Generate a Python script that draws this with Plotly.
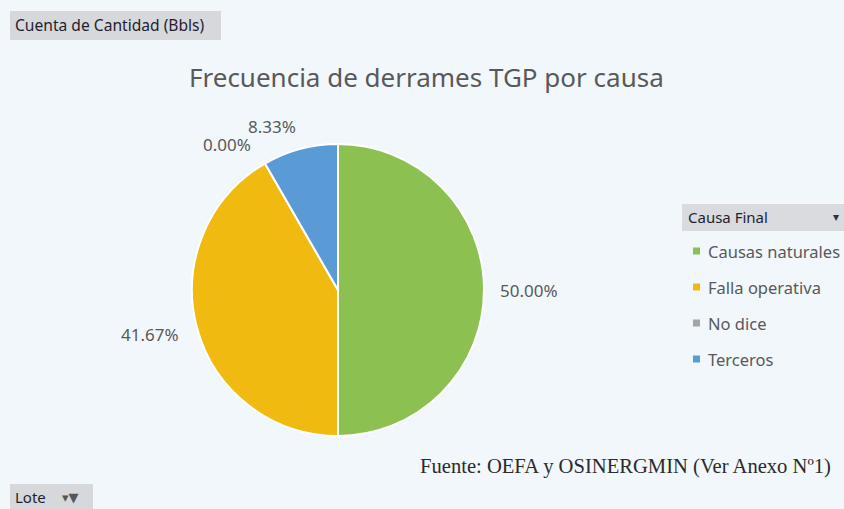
import math
import plotly.graph_objects as go

categories = ["Causas naturales", "Falla operativa", "No dice", "Terceros"]
values = [6, 5, 0, 1]
colors = ["#8CC152", "#F0BA10", "#A5A5A5", "#5A9BD5"]
title = "Frecuencia de derrames TGP por causa"

W, H = 844, 509
CX, CY, R = 338, 290, 146


def px(x):
    return x / W


def py(y):
    return 1 - y / H


fig = go.Figure()
fig.add_trace(go.Pie(
    labels=categories, values=values, sort=False, direction="clockwise",
    rotation=0, marker=dict(colors=colors, line=dict(color="white", width=2)),
    textinfo="none", showlegend=False, hoverinfo="label+percent",
    domain=dict(x=[px(CX - R), px(CX + R)], y=[py(CY + R), py(CY - R)]),
))

annotations = []
shapes = []


def text(x, y, s, size, color="#595959", family="Noto Sans", xa="left"):
    annotations.append(dict(x=px(x), y=py(y), xref="paper", yref="paper", text=s,
                            xanchor=xa, yanchor="middle", showarrow=False,
                            font=dict(family=family, size=size, color=color)))


# percentage labels placed around slices from the data (radius factor + pixel nudge)
total = sum(values)
cum = 0
label_r = [1.31, 1.36, 1.2, 1.2]
label_nudge = [(0, 0), (4, -7), (-23, 6), (-21, 6)]
for i, v in enumerate(values):
    mid = (cum + v / 2) / total * 2 * math.pi
    cum += v
    rr = R * label_r[i]
    x = CX + rr * math.sin(mid) + label_nudge[i][0]
    y = CY - rr * math.cos(mid) + label_nudge[i][1]
    text(x, y, f"{v / total * 100:.2f}%", 17, xa="center")

# title
text(426, 77, title, 26, xa="center")

# top field button
shapes.append(dict(type="rect", xref="paper", yref="paper", x0=px(10), x1=px(221),
                   y0=py(40), y1=py(11), fillcolor="#D6D8DB", line=dict(width=0)))
text(13, 25, "Cuenta de Cantidad (Bbls)", 15.6, color="#1F1F2F")

# bottom Lote button
shapes.append(dict(type="rect", xref="paper", yref="paper", x0=px(10), x1=px(93),
                   y0=0, y1=py(484), fillcolor="#D6D8DB", line=dict(width=0)))
text(13, 497, "Lote", 15, color="#1F1F2F")
text(60, 497, "▾▼", 13, color="#555555", family="DejaVu Sans")

# legend header
shapes.append(dict(type="rect", xref="paper", yref="paper", x0=px(682), x1=1.0,
                   y0=py(231), y1=py(204), fillcolor="#D9DBDE", line=dict(width=0)))
text(686, 217, "Causa Final", 15, color="#1F1F2F")
text(836, 217, "▾", 12, color="#333333", family="DejaVu Sans", xa="center")

# legend items
for i, (c, col) in enumerate(zip(categories, colors)):
    yc = 251 + i * 36
    shapes.append(dict(type="rect", xref="paper", yref="paper", x0=px(693), x1=px(700),
                       y0=py(yc + 3.5), y1=py(yc - 3.5), fillcolor=col, line=dict(width=0)))
    text(706, yc, c, 16.5)

# source
text(418, 466, "Fuente: OEFA y OSINERGMIN (Ver Anexo Nº1)", 20.6,
     color="#2B2B2B", family="Liberation Serif")

fig.update_layout(
    width=W, height=H, margin=dict(l=0, r=0, t=0, b=0),
    paper_bgcolor="#F2F7FC", plot_bgcolor="#F2F7FC",
    annotations=annotations, shapes=shapes, showlegend=False,
)
fig.write_html("out.html", config={"displayModeBar": False},
               post_script="document.body.style.margin='0';")
